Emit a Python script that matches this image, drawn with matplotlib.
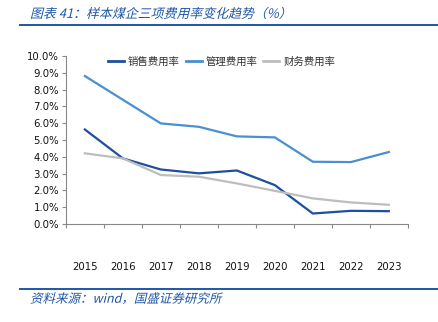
"""Sample coal companies: selling / admin / finance expense ratios, 2015-2023."""

import matplotlib.pyplot as plt
from matplotlib.font_manager import FontProperties
from matplotlib.lines import Line2D
from matplotlib.patches import PathPatch
from matplotlib.text import TextPath
from matplotlib.ticker import FixedLocator, FuncFormatter
from matplotlib.transforms import Affine2D

plt.rcParams["font.family"] = ["Noto Sans CJK SC", "DejaVu Sans"]

DPI = 100

years = ["2015", "2016", "2017", "2018", "2019", "2020", "2021", "2022", "2023"]
selling_rate = [5.63, 3.91, 3.25, 3.02, 3.19, 2.32, 0.63, 0.79, 0.77]
admin_rate = [8.81, 7.40, 5.99, 5.79, 5.22, 5.16, 3.71, 3.69, 4.29]
finance_rate = [4.21, 3.91, 2.92, 2.82, 2.42, 1.98, 1.53, 1.29, 1.15]

series_names = ["销售费用率", "管理费用率", "财务费用率"]
series_colors = ["#1d4f9e", "#4a8fd2", "#bdbdbd"]
brand_blue = "#1f56a8"


def slanted_text(fig, x_px, y_px, text, size, color):
    """Draw text as a sheared path (CJK fonts have no italic face)."""
    fp = FontProperties(family="Noto Sans CJK SC")
    path = TextPath((0, 0), text, size=size, prop=fp)
    height = fig.get_figheight() * DPI
    trans = (Affine2D().skew_deg(14, 0).scale(DPI / 72)
             .translate(x_px, height - y_px - size * DPI / 72 * 0.38))
    patch = PathPatch(path, transform=trans, facecolor=color,
                      edgecolor="none")
    fig.add_artist(patch)


fig = plt.figure(figsize=(4.39, 3.22), dpi=DPI)
ax = fig.add_axes([0.150, 0.304, 0.779, 0.522])

x = range(len(years))
for values, name, color in zip(
    [selling_rate, admin_rate, finance_rate], series_names, series_colors
):
    ax.plot(x, values, color=color, linewidth=1.6, label=name,
            solid_joinstyle="round")

ax.set_xlim(-0.5, len(years) - 0.5)
ax.set_ylim(0, 10)
ax.set_yticks(range(0, 11))
ax.yaxis.set_major_formatter(FuncFormatter(lambda v, _: f"{v:.1f}%"))

# boundary ticks on the category axis, labels sit on the centres
ax.xaxis.set_major_locator(FixedLocator([i - 0.5 for i in range(len(years) + 1)]))
ax.xaxis.set_minor_locator(FixedLocator(list(x)))
ax.set_xticklabels([], minor=False)
ax.set_xticklabels(years, minor=True)
ax.tick_params(axis="x", which="major", length=3, color="#888888")
ax.tick_params(axis="x", which="minor", length=0, pad=27, labelsize=7.3,
               labelcolor="#111111")
ax.tick_params(axis="y", length=3, color="#888888", labelsize=7.3,
               labelcolor="#111111", pad=2)
for lbl in ax.get_yticklabels() + ax.get_xticklabels(minor=True):
    lbl.set_family("DejaVu Sans")

for side in ["top", "right"]:
    ax.spines[side].set_visible(False)
for side in ["left", "bottom"]:
    ax.spines[side].set_color("#888888")
    ax.spines[side].set_linewidth(0.8)

handles = [Line2D([], [], color=c, linewidth=2.0) for c in series_colors]
ax.legend(handles, series_names, loc="upper left",
          bbox_to_anchor=((108 - 66) / 342, 0.995),
          ncol=3, frameon=False, fontsize=7.5, handlelength=1.55,
          handletextpad=0.38, columnspacing=0.55, borderpad=0,
          borderaxespad=0, labelcolor="#333333")

# header and footer rules
fig.add_artist(Line2D([20 / 439, 1], [1 - 25 / 322] * 2, color=brand_blue,
                      linewidth=1.4))
fig.add_artist(Line2D([20 / 439, 1], [1 - 289 / 322] * 2, color=brand_blue,
                      linewidth=1.4))

slanted_text(fig, 30, 13, "图表 41：样本煤企三项费用率变化趋势（%）", 9.3, brand_blue)
slanted_text(fig, 30, 298, "资料来源：wind，国盛证券研究所", 9.0, brand_blue)

fig.savefig("out.png", dpi=DPI)
